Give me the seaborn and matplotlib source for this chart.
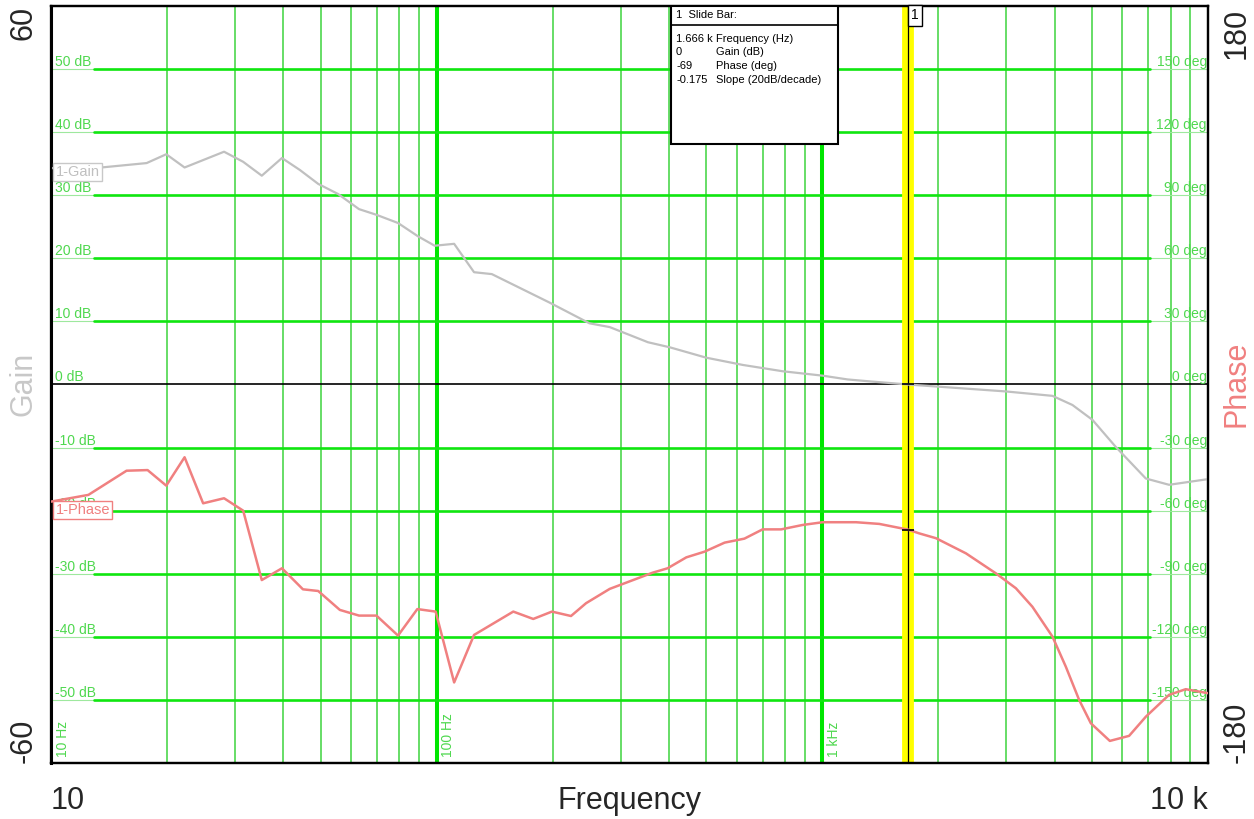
import pandas as pd
import matplotlib
matplotlib.use("Agg")
import matplotlib.pyplot as plt
import matplotlib.transforms as mtransforms
from matplotlib.patches import Rectangle
import seaborn as sns

# gain trace
gain_freq = [10, 13.5, 17.7, 19.9, 22.2, 28.1, 31.5, 35.2, 39.7, 44.2, 49.3, 55.5,
             62.9, 69.8, 79.4, 89.4, 98.8, 111, 125, 139, 196, 249, 281, 353, 402,
             500, 622, 789, 1002, 1163, 1324, 1666, 2991, 3951, 4452, 5015, 5767,
             6898, 7925, 10000]
gain_db = [34.3, 34.4, 35.1, 36.5, 34.4, 36.9, 35.3, 33.1, 35.9, 34.0, 31.8, 30.2,
           27.8, 26.9, 25.6, 23.5, 22.0, 22.3, 17.8, 17.5, 13.0, 9.7, 9.1, 6.7, 5.9,
           4.25, 3.1, 2.1, 1.4, 0.8, 0.5, 0.0, -1.1, -1.8, -3.25, -5.6, -9.9,
           -14.9, -15.9, -15.0]

# phase trace
phase_freq = [10, 12.5, 15.7, 17.8, 19.9, 22.2, 24.8, 28.1, 31.5, 35.2, 39.7, 45.0,
              49.3, 56.1, 62.9, 69.8, 79.4, 89.1, 99.4, 111, 125, 158, 178, 199,
              223, 244, 281, 363, 397, 444, 495, 558, 628, 700, 782, 889, 1002,
              1223, 1405, 1666, 1783, 1971, 2357, 2818, 3176, 3505, 3951, 4279,
              4633, 4968, 5565, 6243, 6898, 7925, 8754, 10000]
phase_deg = [-55.7, -52.5, -41.0, -40.7, -48.1, -34.6, -56.5, -54.1, -60.0, -93.0,
             -87.4, -97.4, -98.2, -107.2, -109.9, -109.9, -119.4, -106.8, -108.0,
             -141.7, -119.1, -108.0, -111.5, -108.0, -110.1, -104.0, -97.2, -89.5,
             -87.4, -82.2, -79.5, -75.2, -73.3, -68.9, -68.9, -66.8, -65.5, -65.5,
             -66.3, -69.0, -70.8, -73.1, -80.3, -89.8, -96.9, -105.7, -119.9,
             -134.2, -150.0, -161.1, -169.5, -167.1, -158.0, -147.6, -144.9, -146.8]

# slide bar readout
cursor_freq = 1666
cursor_gain = 0
cursor_phase = -69
readout = [("1.666 k", "Frequency (Hz)"), ("0", "Gain (dB)"),
           ("-69", "Phase (deg)"), ("-0.175", "Slope (20dB/decade)")]

decades = [10, 100, 1000]
major_freqs = [100, 1000]
freq_labels = ["10 Hz", "100 Hz", "1 kHz"]
gain_lines = [-50, -40, -30, -20, -10, 10, 20, 30, 40, 50]
gain_labels = [-50, -40, -30, -20, -10, 0, 10, 20, 30, 40, 50]
phase_labels = [-150, -120, -90, -60, -30, 0, 30, 60, 90, 120, 150]

GREEN = "#10e610"
GREEN_MINOR = "#66dd66"
GREEN_TEXT = "#4fd84f"
GAIN_C = "#c0c0c0"
PHASE_C = "#f08080"

sns.set_theme(style="white")
plt.rcParams["font.family"] = ["Liberation Sans", "DejaVu Sans"]

fig = plt.figure(figsize=(12.54, 8.19), dpi=100)
ax = fig.add_axes([0.04067, 0.06838, 0.92265, 0.92430])
ax.set_xscale("log")
ax2 = ax.twinx()

# grid
for d in decades:
    for m in range(2, 10):
        ax.axvline(d * m, color=GREEN_MINOR, lw=1.4, zorder=1)
for f in major_freqs:
    ax.axvline(f, color="#00e600", lw=2.9, zorder=1.2)
for g in gain_lines:
    ax.axhline(g, color="#9ee89e", lw=0.8, zorder=1.1)
    ax.axhline(g, xmin=0.037, xmax=0.95, color=GREEN, lw=1.9, zorder=1.3)
ax.axhline(0, color="black", lw=1.2, zorder=1.4)

# curves
df_gain = pd.DataFrame({"freq": gain_freq, "gain": gain_db})
df_phase = pd.DataFrame({"freq": phase_freq, "phase": phase_deg})
sns.lineplot(data=df_gain, x="freq", y="gain", ax=ax, color=GAIN_C, lw=1.6, zorder=3)
sns.lineplot(data=df_phase, x="freq", y="phase", ax=ax2, color=PHASE_C, lw=1.8, zorder=3)

# cursor
ax.axvline(cursor_freq, color="#ffff00", lw=8.5, zorder=2.5)
ax.axvline(cursor_freq, color="black", lw=0.9, zorder=2.6)
ax.plot([cursor_freq], [cursor_gain], marker="_", ms=9, mew=1.2, color="black", zorder=4)
ax2.plot([cursor_freq], [cursor_phase], marker="_", ms=9, mew=1.2, color="black", zorder=4)

ax.set_xlim(10, 10000)
ax.set_ylim(-60, 60)
ax2.set_ylim(-180, 180)
for a in (ax, ax2):
    a.set_xlabel("")
    a.set_ylabel("")
    a.set_xticks([])
    a.set_xticks([], minor=True)
    a.set_yticks([])
    for s in a.spines.values():
        s.set_color("black")
        s.set_linewidth(1.6)
ax.spines["left"].set_linewidth(2.2)

# in-plot labels
tl = mtransforms.blended_transform_factory(ax.transAxes, ax.transData)
for g in gain_labels:
    ax.text(0.0035, g, f"{g} dB", transform=tl, ha="left", va="bottom",
            color=GREEN_TEXT, fontsize=10, zorder=2)
tr = mtransforms.blended_transform_factory(ax2.transAxes, ax2.transData)
for p in phase_labels:
    ax2.text(0.999, p, f"{p} deg", transform=tr, ha="right", va="bottom",
             color=GREEN_TEXT, fontsize=10, zorder=2)
for f, lab in zip(decades, freq_labels):
    ax.annotate(lab, xy=(f, 0), xycoords=("data", "axes fraction"),
                xytext=(8.5, 4), textcoords="offset points", rotation=90,
                ha="center", va="bottom", color=GREEN_TEXT, fontsize=10, zorder=2)

ax.text(0.004, 33.7, "1-Gain", transform=tl, ha="left", va="center", color="#c0c0c0",
        fontsize=10.5, zorder=5,
        bbox=dict(boxstyle="square,pad=0.15", fc="white", ec="#c8c8c8", lw=1))
ax2.text(0.004, -59.7, "1-Phase", transform=tr, ha="left", va="center", color=PHASE_C,
         fontsize=10.5, zorder=5,
         bbox=dict(boxstyle="square,pad=0.15", fc="white", ec=PHASE_C, lw=1))

# slide bar box
ax2.add_patch(Rectangle((0.5359, 0.8177), 0.1443, 0.1823, transform=ax2.transAxes,
                        fc="white", ec="black", lw=1.5, zorder=6))
ax2.plot([0.5359, 0.6802], [0.975, 0.975], transform=ax2.transAxes,
         color="black", lw=1.2, zorder=7)
ax2.text(0.5402, 0.988, "1  Slide Bar:", transform=ax2.transAxes, ha="left",
         va="center", fontsize=8, color="black", zorder=7)
for (v, name), yy in zip(readout, [0.9564, 0.9392, 0.9207, 0.9022]):
    ax2.text(0.5402, yy, v, transform=ax2.transAxes, ha="left", va="center",
             fontsize=8, color="black", zorder=7)
    ax2.text(0.5748, yy, name, transform=ax2.transAxes, ha="left", va="center",
             fontsize=8, color="black", zorder=7)
ax2.annotate("1", xy=(cursor_freq, 1), xycoords=("data", "axes fraction"),
             xytext=(2.5, -1.5), textcoords="offset points", ha="left", va="top",
             fontsize=10, color="black", zorder=7,
             bbox=dict(boxstyle="square,pad=0.25", fc="white", ec="black", lw=1))

# outer axis text
fig.text(0.019, 0.9927, "60", rotation=90, ha="center", va="top", fontsize=22)
fig.text(0.019, 0.0684, "-60", rotation=90, ha="center", va="bottom", fontsize=22)
fig.text(0.019, 0.531, "Gain", rotation=90, ha="center", va="center",
         fontsize=22, color="#c8c8c8")
fig.text(0.9862, 0.9907, "180", rotation=90, ha="center", va="top", fontsize=22)
fig.text(0.9862, 0.0684, "-180", rotation=90, ha="center", va="bottom", fontsize=22)
fig.text(0.9862, 0.531, "Phase", rotation=90, ha="center", va="center",
         fontsize=22, color=PHASE_C)
fig.text(0.04067, 0.022, "10", ha="left", va="center", fontsize=22)
fig.text(0.502, 0.022, "Frequency", ha="center", va="center", fontsize=22)
fig.text(0.9633, 0.022, "10 k", ha="right", va="center", fontsize=22)

fig.savefig("out.png", dpi=100, facecolor="white")
